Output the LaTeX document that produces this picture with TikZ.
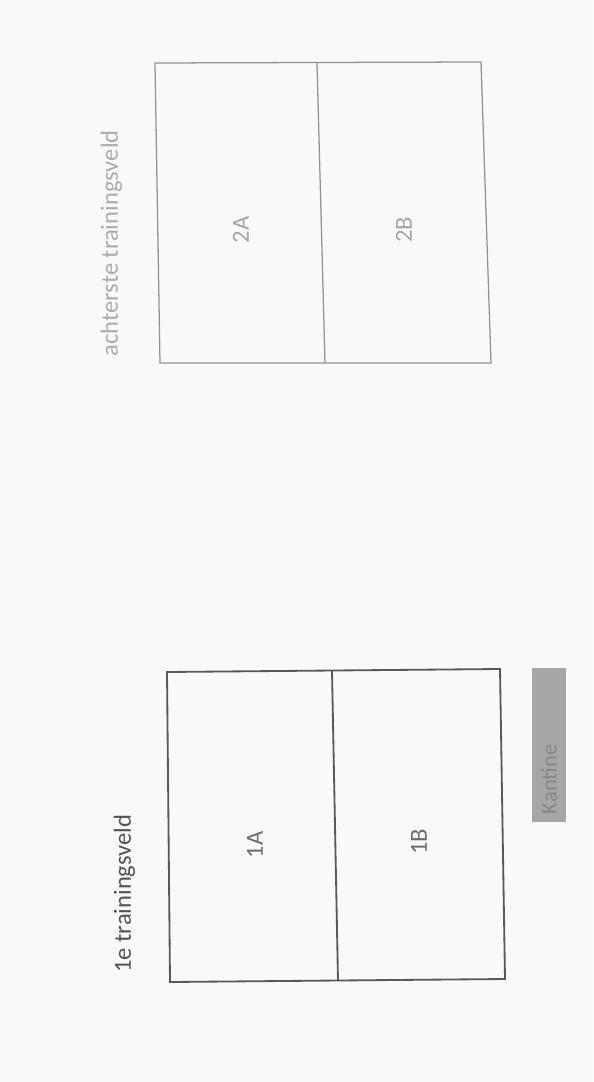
\documentclass[tikz,border=0pt]{standalone}
\usepackage{fontspec}
\setmainfont{Carlito}
\usepackage{tikz}

\begin{document}
\begin{tikzpicture}[x=0.025cm, y=-0.025cm,
    every node/.style={font=\fontsize{17.5}{20}\selectfont, rotate=90, inner sep=0pt},
    voorveld/.style={draw=gray!70!black, line width=1.3pt},
    achterveld/.style={draw=gray!85, line width=0.9pt}]
  \useasboundingbox (0,0) rectangle (593,1082);
  \fill[gray!5] (0,0) rectangle (593,1082);
  % achterste trainingsveld
  \coordinate (a2) at (155,63);
  \coordinate (b2) at (481,62);
  \coordinate (c2) at (491,363);
  \coordinate (d2) at (160,363);
  \coordinate (m2t) at (317,63);
  \coordinate (m2b) at (325,363);
  \draw[achterveld] (a2) -- (b2) -- (c2) -- (d2) -- cycle;
  \draw[achterveld] (m2t) -- (m2b);
  \node[text=gray!65] (titel2) at (111.5,243.5) {achterste trainingsveld};
  \node[text=gray!70] (veld2a) at (241,230) {2A};
  \node[text=gray!70] (veld2b) at (404,230) {2B};
  % 1e trainingsveld
  \coordinate (a1) at (167,672);
  \coordinate (b1) at (500,669);
  \coordinate (c1) at (505,979);
  \coordinate (d1) at (170,982);
  \coordinate (m1t) at (332,671);
  \coordinate (m1b) at (338,981);
  \draw[voorveld] (a1) -- (b1) -- (c1) -- (d1) -- cycle;
  \draw[voorveld] (m1t) -- (m1b);
  \node[text=gray!65!black] (titel1) at (124.5,893.5) {1e trainingsveld};
  \node[text=gray!85!black] (veld1a) at (255,845) {1A};
  \node[text=gray!85!black] (veld1b) at (419,842) {1B};
  \node[fill=gray!70, text=gray!95, font=\fontsize{16}{19}\selectfont,
        minimum height=0.85cm, text width=3.45cm, inner xsep=2mm, align=left]
        (kantine) at (549,745) {Kantine};
\end{tikzpicture}
\end{document}
